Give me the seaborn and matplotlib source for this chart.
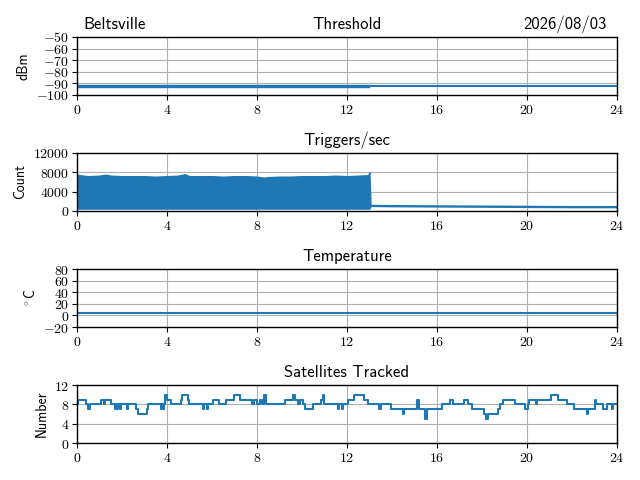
import matplotlib
matplotlib.use("Agg")
import matplotlib.pyplot as plt
import seaborn as sns
import numpy as np
import pandas as pd
from matplotlib.ticker import FuncFormatter, FixedLocator

# ---------------- data ----------------
hour_ticks = [0, 4, 8, 12, 16, 20, 24]

# Threshold (dBm)
thr_band_hours = [0.0, 13.0]
thr_band_upper = [-91.0, -91.0]
thr_band_lower = [-93.0, -93.0]
thr_line_hours = [13.0, 24.0]
thr_line_values = [-92.0, -92.0]

# Triggers/sec envelope (Count)
trig_hours = [0.0, 0.3, 0.5, 1.0, 1.3, 1.5, 2.0, 2.5, 3.0, 3.5, 4.0, 4.5, 4.8, 5.0,
              5.5, 6.0, 6.5, 7.0, 7.5, 8.0, 8.3, 8.5, 9.0, 9.5, 10.0, 10.5, 11.0,
              11.5, 12.0, 12.5, 12.95, 13.0, 13.05, 14.0, 16.0, 18.0, 20.0, 22.0, 24.0]
trig_upper = [7500, 7300, 7200, 7300, 7500, 7300, 7200, 7200, 7200, 7100, 7200, 7300, 7600, 7200,
              7200, 7200, 7100, 7200, 7200, 7100, 6900, 7000, 7100, 7100, 7200, 7200, 7200,
              7300, 7200, 7300, 7400, 8000, 1250, 1200, 1150, 1100, 1050, 1000, 1000]
trig_lower = [500, 500, 500, 500, 500, 500, 500, 500, 500, 500, 500, 500, 500, 500,
              500, 500, 500, 500, 500, 500, 500, 500, 500, 500, 500, 500, 500,
              500, 500, 500, 500, 500, 1050, 1000, 950, 900, 850, 800, 800]

# Temperature (deg C)
temp_hours = [0.0, 24.0]
temp_values = [4.0, 4.0]

# Satellites tracked (step series)
sat_hours = [0.0, 0.05, 0.42, 0.51, 0.58, 1.09, 1.21, 1.27, 1.54, 1.68, 1.74, 1.78, 1.83,
             1.92, 1.97, 2.23, 2.28, 2.63, 2.72, 3.12, 3.17, 3.75, 3.80, 3.86, 3.89,
             3.93, 3.99, 4.17, 4.62, 4.67, 4.93, 4.98, 5.62, 5.67, 5.80, 5.85, 6.03,
             6.34, 6.61, 6.97, 7.25, 7.79, 7.88, 8.01, 8.15, 8.24, 8.33, 8.39, 9.24,
             9.60, 9.69, 9.82, 9.93, 10.05, 10.14, 10.51, 10.87, 10.92, 11.0, 11.59,
             11.65, 11.78, 11.83, 12.05, 12.32, 12.77, 12.95, 13.41, 13.5, 13.95,
             14.49, 14.55, 15.13, 15.22, 15.49, 15.58, 16.21, 16.58, 16.70, 17.21,
             17.36, 17.57, 18.10, 18.18, 18.25, 18.70, 18.80, 18.95, 19.47, 19.93,
             20.05, 20.10, 20.40, 20.45, 21.05, 21.40, 21.80, 22.10, 22.65, 22.72,
             23.02, 23.07, 23.40, 23.55, 23.78, 23.83, 24.0]
sat_values = [8, 9, 8, 7, 8, 9, 8, 9, 8, 7, 8, 7, 8,
              7, 8, 7, 8, 7, 6, 7, 8, 7, 8, 7, 8,
              10, 9, 8, 9, 10, 9, 8, 7, 8, 7, 8, 9,
              8, 9, 10, 9, 8, 9, 8, 9, 8, 10, 8, 9,
              10, 9, 8, 9, 8, 7, 8, 9, 10, 8, 7,
              8, 7, 8, 9, 10, 9, 8, 7, 8, 7,
              6, 7, 9, 7, 5, 7, 8, 9, 8, 9,
              8, 7, 6, 5, 6, 7, 8, 9, 8, 7,
              8, 9, 8, 9, 10, 9, 8, 7, 6, 7,
              9, 8, 7, 8, 7, 8, 8]

# ---------------- style ----------------
sns.set_theme(style="ticks")
plt.rcParams.update({
    "font.family": ["cmss10", "DejaVu Sans"],
    "mathtext.fontset": "cm",
    "axes.grid": True,
    "grid.color": "#b0b0b0",
    "grid.linewidth": 0.8,
    "axes.edgecolor": "black",
    "axes.linewidth": 1.0,
    "xtick.color": "black",
    "ytick.color": "black",
    "axes.labelcolor": "black",
    "text.color": "black",
    "xtick.labelsize": 10,
    "ytick.labelsize": 10,
    "axes.titlesize": 12,
    "axes.labelsize": 10,
    "axes.formatter.use_mathtext": True,
})

blue = "#1f77b4"
fmt = FuncFormatter(lambda v, p: r"$%g$" % v)

fig, axes = plt.subplots(4, 1, figsize=(6.4, 4.8), dpi=100)

# Threshold
ax = axes[0]
ax.fill_between(thr_band_hours, thr_band_lower, thr_band_upper, color=blue, linewidth=1)
sns.lineplot(x=thr_line_hours, y=thr_line_values, ax=ax, color=blue, linewidth=1.5)
ax.set_ylim(-100, -50)
ax.yaxis.set_major_locator(FixedLocator([-100, -90, -80, -70, -60, -50]))
ax.set_ylabel("dBm")
t_left = ax.set_title("Beltsville", loc="left")
t_left.set_x(0.013)
ax.set_title("Threshold", loc="center")
t_right = ax.set_title("2026/08/03", loc="right")
t_right.set_x(0.981)

# Triggers
ax = axes[1]
ax.fill_between(trig_hours, trig_lower, trig_upper, color=blue, linewidth=1)
ax.set_ylim(0, 12000)
ax.yaxis.set_major_locator(FixedLocator([0, 4000, 8000, 12000]))
ax.set_ylabel("Count")
ax.set_title("Triggers/sec")

# Temperature
ax = axes[2]
sns.lineplot(x=temp_hours, y=temp_values, ax=ax, color=blue, linewidth=1.5)
ax.set_ylim(-20, 80)
ax.yaxis.set_major_locator(FixedLocator([-20, 0, 20, 40, 60, 80]))
ax.set_ylabel(r"$^\circ$C")
ax.set_title("Temperature")

# Satellites
ax = axes[3]
sns.lineplot(x=sat_hours, y=sat_values, ax=ax, color=blue, linewidth=1.5,
             drawstyle="steps-post", estimator=None, sort=False)
ax.set_ylim(0, 12)
ax.yaxis.set_major_locator(FixedLocator([0, 4, 8, 12]))
ax.set_ylabel("Number")
ax.set_title("Satellites Tracked")

for ax in axes:
    ax.set_xlim(0, 24)
    ax.xaxis.set_major_locator(FixedLocator(hour_ticks))
    ax.xaxis.set_major_formatter(fmt)
    ax.yaxis.set_major_formatter(fmt)
    ax.set_xlabel("")
    ax.grid(True)
    ax.tick_params(direction="out", length=3.5, width=0.8, pad=2)
    for s in ax.spines.values():
        s.set_visible(True)

fig.subplots_adjust(left=0.12, right=0.964, top=0.923, bottom=0.077, hspace=1.0)
fig.savefig("out.png", dpi=100)
